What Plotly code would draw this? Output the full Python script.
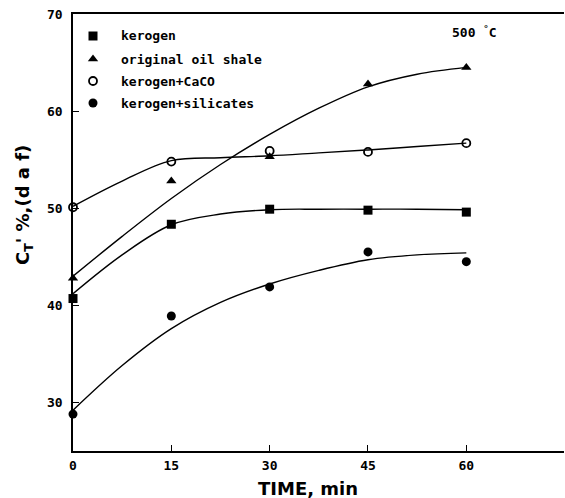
import plotly.graph_objects as go

# measured points
time_pts = [0, 15, 30, 45, 60]
kerogen = [40.7, 48.35, 49.9, 49.8, 49.6]
oil_shale = [42.8, 52.8, 55.3, 62.8, 64.5]
kerogen_caco = [50.1, 54.8, 55.9, 55.8, 56.7]
kerogen_sil = [28.8, 38.9, 41.9, 45.5, 44.5]

# fitted curves
curve_t = [0, 7.5, 15, 22.5, 30, 37.5, 45, 52.5, 60]
kerogen_curve = [41.2, 45.2, 48.3, 49.4, 49.85, 49.9, 49.9, 49.9, 49.85]
oil_curve = [43.0, 47.1, 51.0, 54.5, 57.6, 60.3, 62.5, 63.8, 64.5]
caco_curve = [50.2, 52.8, 54.9, 55.2, 55.4, 55.7, 56.0, 56.35, 56.7]
sil_curve = [29.2, 33.8, 37.6, 40.3, 42.2, 43.6, 44.7, 45.2, 45.4]

legend_labels = ["kerogen", "original oil shale", "kerogen+CaCO", "kerogen+silicates"]
x_ticks = [0, 15, 30, 45, 60]
y_ticks = [30, 40, 50, 60, 70]

MONO = "DejaVu Sans Mono"
L, R, T, B = 73, 1, 14, 47
W, H = 565, 498
PW, PH = W - L - R, H - T - B


def px_x(px):
    return (px - L) / PW


def px_y(py):
    return 1 - (py - T) / PH


fig = go.Figure()

for c in [kerogen_curve, oil_curve, caco_curve, sil_curve]:
    fig.add_trace(go.Scatter(x=curve_t, y=c, mode="lines",
                             line=dict(color="black", width=1.4, shape="spline"),
                             showlegend=False, hoverinfo="skip"))

markers = [
    (kerogen, dict(symbol="square", size=9, color="black")),
    (oil_shale, dict(symbol="triangle-up", size=9, color="black")),
    (kerogen_caco, dict(symbol="circle-open", size=8, color="black", line=dict(width=1.8, color="black"))),
    (kerogen_sil, dict(symbol="circle", size=9, color="black")),
]
for (vals, mk), name in zip(markers, legend_labels):
    fig.add_trace(go.Scatter(x=time_pts, y=vals, mode="markers", marker=mk, name=name, cliponaxis=False))

# legend drawn as markers + text
leg_y = [36, 59, 81, 103]
for (vals, mk), name, yy in zip(markers, legend_labels, leg_y):
    fig.add_trace(go.Scatter(x=[px_x(93)], y=[px_y(yy)], xaxis="x2", yaxis="y2", mode="markers", marker=mk,
                             showlegend=False, hoverinfo="skip"))
    fig.add_annotation(x=px_x(119), y=px_y(yy), xref="paper", yref="paper", text="<b>" + name + "</b>",
                       showarrow=False, xanchor="left", yanchor="middle",
                       font=dict(family=MONO, size=13, color="black"))

fig.add_annotation(x=px_x(474), y=px_y(32), xref="paper", yref="paper",
                   text="<b>500 <sup>°</sup>C</b>", showarrow=False, xanchor="center", yanchor="middle",
                   font=dict(family=MONO, size=13, color="black"))

# axis titles
fig.add_annotation(x=px_x(308), y=px_y(488), xref="paper", yref="paper",
                   text="<b>TIME, min</b>", showarrow=False, xanchor="center", yanchor="middle",
                   font=dict(family="DejaVu Sans", size=18, color="black"))
fig.add_annotation(x=px_x(24), y=px_y(205), xref="paper", yref="paper", textangle=-90,
                   text="<b>C<sub>T</sub>' %,(d a f)</b>", showarrow=False, xanchor="center", yanchor="middle",
                   font=dict(family="DejaVu Sans", size=18, color="black"))

fig.update_layout(
    width=W, height=H,
    margin=dict(l=L, r=R, t=T, b=B),
    paper_bgcolor="white", plot_bgcolor="white",
    showlegend=False,
    xaxis=dict(range=[0, 74.9], tickvals=x_ticks, ticktext=[f"<b>{v}</b>" for v in x_ticks],
               ticks="inside", ticklen=6, tickwidth=1.3, tickcolor="black",
               showline=True, linecolor="black", linewidth=1.5, mirror=True,
               showgrid=False, zeroline=False, ticklabelstandoff=2,
               tickfont=dict(family=MONO, size=13, color="black")),
    yaxis=dict(range=[25, 70], tickvals=y_ticks, ticktext=[f"<b>{v}</b>" for v in y_ticks],
               ticks="inside", ticklen=6, tickwidth=1.3, tickcolor="black",
               showline=True, linecolor="black", linewidth=1.5,
               showgrid=False, zeroline=False, ticklabelstandoff=6,
               tickfont=dict(family=MONO, size=13, color="black")),
    xaxis2=dict(domain=[0, 1], range=[0, 1], overlaying="x", visible=False),
    yaxis2=dict(domain=[0, 1], range=[0, 1], overlaying="y", visible=False),
)

fig.write_html("out.html")
